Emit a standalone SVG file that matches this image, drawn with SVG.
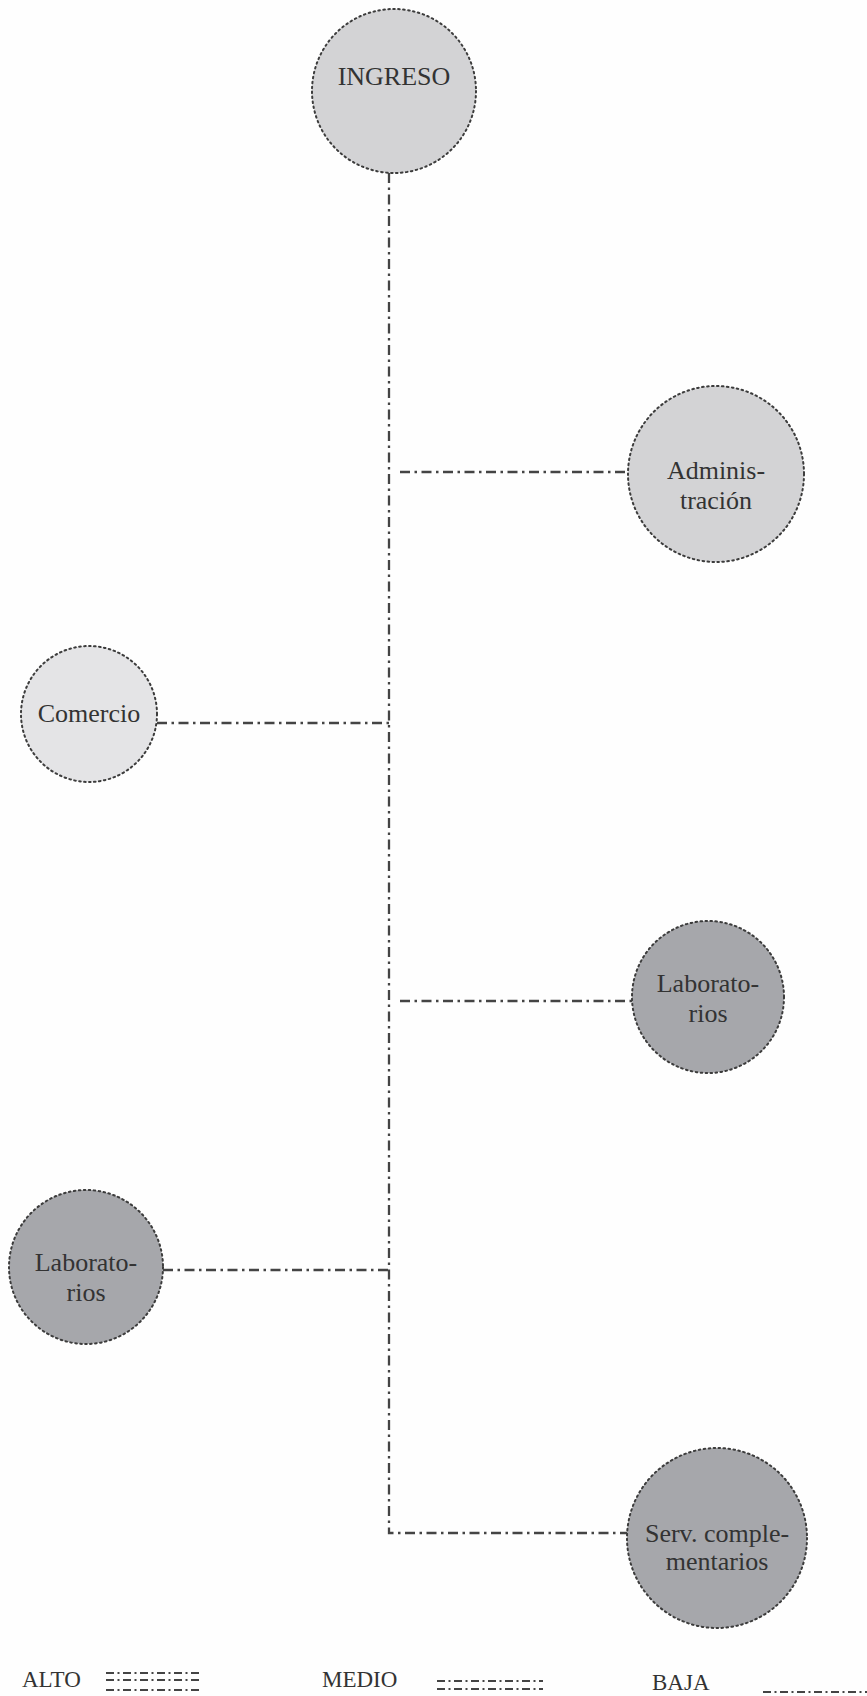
<svg xmlns="http://www.w3.org/2000/svg" width="867" height="1696" viewBox="0 0 867 1696">
<style>
.node{stroke:#3c3c3c;stroke-width:2;stroke-dasharray:1.6 3.4;stroke-linecap:round}
.light{fill:#e4e4e6}
.mid{fill:#d3d3d5}
.dark{fill:#a6a7ab}
.lbl{font-family:"Liberation Serif","Times New Roman",serif;font-size:26px;fill:#333;text-anchor:middle}
.leg{font-family:"Liberation Serif","Times New Roman",serif;font-size:23px;fill:#333}
.conn{stroke:#444;stroke-width:2.3;fill:none;stroke-dasharray:10 4.5 2.5 4.5}
.pat{stroke:#444;stroke-width:2;fill:none;stroke-dasharray:8 3.5 2 3.5}
</style>
<rect width="867" height="1696" fill="#fefefe"/>
<g id="connectors">
<path class="conn" d="M389 173 V1533 H627"/>
<path class="conn" d="M400 472 H628"/>
<path class="conn" d="M157 723 H389"/>
<path class="conn" d="M400 1001 H632"/>
<path class="conn" d="M163 1270 H389"/>
</g>
<g id="ingreso">
<circle class="node mid" cx="394" cy="91" r="82"/>
<text class="lbl" x="394" y="85">INGRESO</text>
</g>
<g id="administracion">
<circle class="node mid" cx="716" cy="474" r="88"/>
<text class="lbl" x="716" y="479">Adminis-</text>
<text class="lbl" x="716" y="509">tración</text>
</g>
<g id="comercio">
<circle class="node light" cx="89" cy="714" r="68"/>
<text class="lbl" x="89" y="722">Comercio</text>
</g>
<g id="laboratorios-1">
<circle class="node dark" cx="708" cy="997" r="76"/>
<text class="lbl" x="708" y="992">Laborato-</text>
<text class="lbl" x="708" y="1022">rios</text>
</g>
<g id="laboratorios-2">
<circle class="node dark" cx="86" cy="1267" r="77"/>
<text class="lbl" x="86" y="1271">Laborato-</text>
<text class="lbl" x="86" y="1301">rios</text>
</g>
<g id="serv">
<circle class="node dark" cx="717" cy="1538" r="90"/>
<text class="lbl" x="717" y="1542">Serv. comple-</text>
<text class="lbl" x="717" y="1570">mentarios</text>
</g>
<g id="legend">
<text class="leg" x="22" y="1687">ALTO</text>
<path class="pat" d="M106 1673 H200 M106 1680 H200 M106 1690 H200"/>
<text class="leg" x="322" y="1687">MEDIO</text>
<path class="pat" d="M437 1681 H543 M437 1689 H543"/>
<text class="leg" x="652" y="1690">BAJA</text>
<path class="pat" d="M763 1692 H867"/>
</g>
</svg>
